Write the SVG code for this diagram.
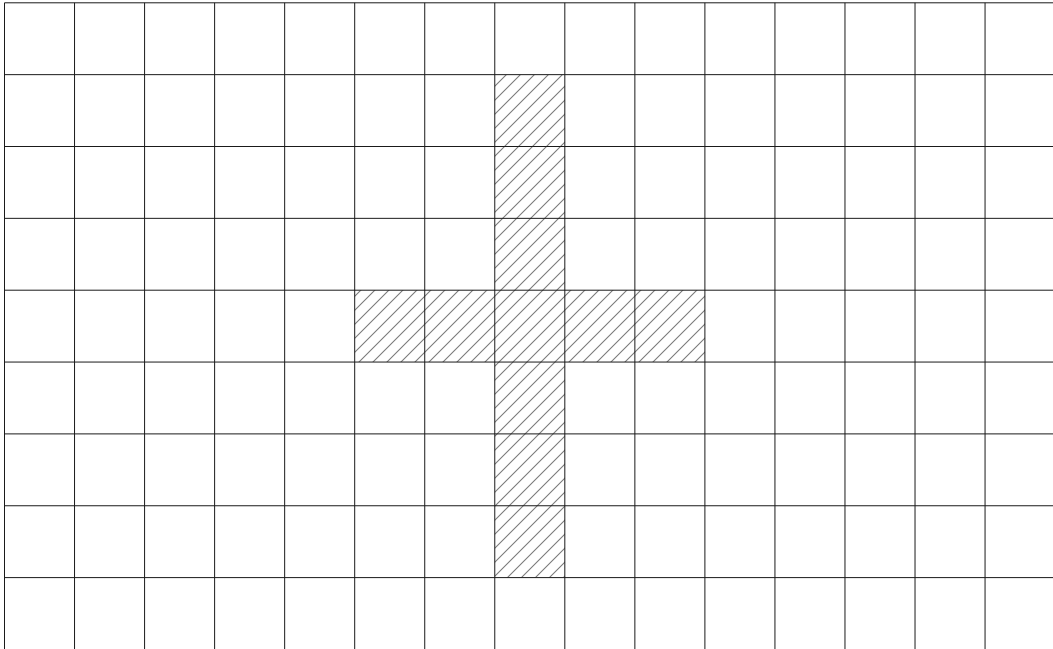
<svg xmlns="http://www.w3.org/2000/svg" width="1053" height="649" viewBox="0 0 1053 649">
<style>
.grid line{stroke:#1a1a1a;stroke-width:1;fill:none}
.hatch{fill:url(#diag);stroke:none}
</style>
<defs>
<pattern id="diag" patternUnits="userSpaceOnUse" x="7" y="0" width="14" height="14">
<path d="M-2,16 L16,-2 M-2,2 L2,-2 M12,16 L16,12" stroke="#7a7a7a" stroke-width="1.1" fill="none"/>
</pattern>
</defs>
<rect width="1053" height="649" fill="#ffffff"/>
<g id="cross">
<path class="hatch" d="M494.78,74.65 H564.82 V290.2 H704.9 V362.05 H564.82 V577.6 H494.78 V362.05 H354.7 V290.2 H494.78 Z"/>
</g>
<g class="grid" id="grid">
<line x1="4.5" y1="2.8" x2="4.5" y2="649"/>
<line x1="74.54" y1="2.8" x2="74.54" y2="649"/>
<line x1="144.58" y1="2.8" x2="144.58" y2="649"/>
<line x1="214.62" y1="2.8" x2="214.62" y2="649"/>
<line x1="284.66" y1="2.8" x2="284.66" y2="649"/>
<line x1="354.7" y1="2.8" x2="354.7" y2="649"/>
<line x1="424.74" y1="2.8" x2="424.74" y2="649"/>
<line x1="494.78" y1="2.8" x2="494.78" y2="649"/>
<line x1="564.82" y1="2.8" x2="564.82" y2="649"/>
<line x1="634.86" y1="2.8" x2="634.86" y2="649"/>
<line x1="704.9" y1="2.8" x2="704.9" y2="649"/>
<line x1="774.94" y1="2.8" x2="774.94" y2="649"/>
<line x1="844.98" y1="2.8" x2="844.98" y2="649"/>
<line x1="915.02" y1="2.8" x2="915.02" y2="649"/>
<line x1="985.06" y1="2.8" x2="985.06" y2="649"/>
<line x1="4.5" y1="2.8" x2="1053" y2="2.8"/>
<line x1="4.5" y1="74.65" x2="1053" y2="74.65"/>
<line x1="4.5" y1="146.5" x2="1053" y2="146.5"/>
<line x1="4.5" y1="218.35" x2="1053" y2="218.35"/>
<line x1="4.5" y1="290.2" x2="1053" y2="290.2"/>
<line x1="4.5" y1="362.05" x2="1053" y2="362.05"/>
<line x1="4.5" y1="433.9" x2="1053" y2="433.9"/>
<line x1="4.5" y1="505.75" x2="1053" y2="505.75"/>
<line x1="4.5" y1="577.6" x2="1053" y2="577.6"/>
</g>
</svg>
